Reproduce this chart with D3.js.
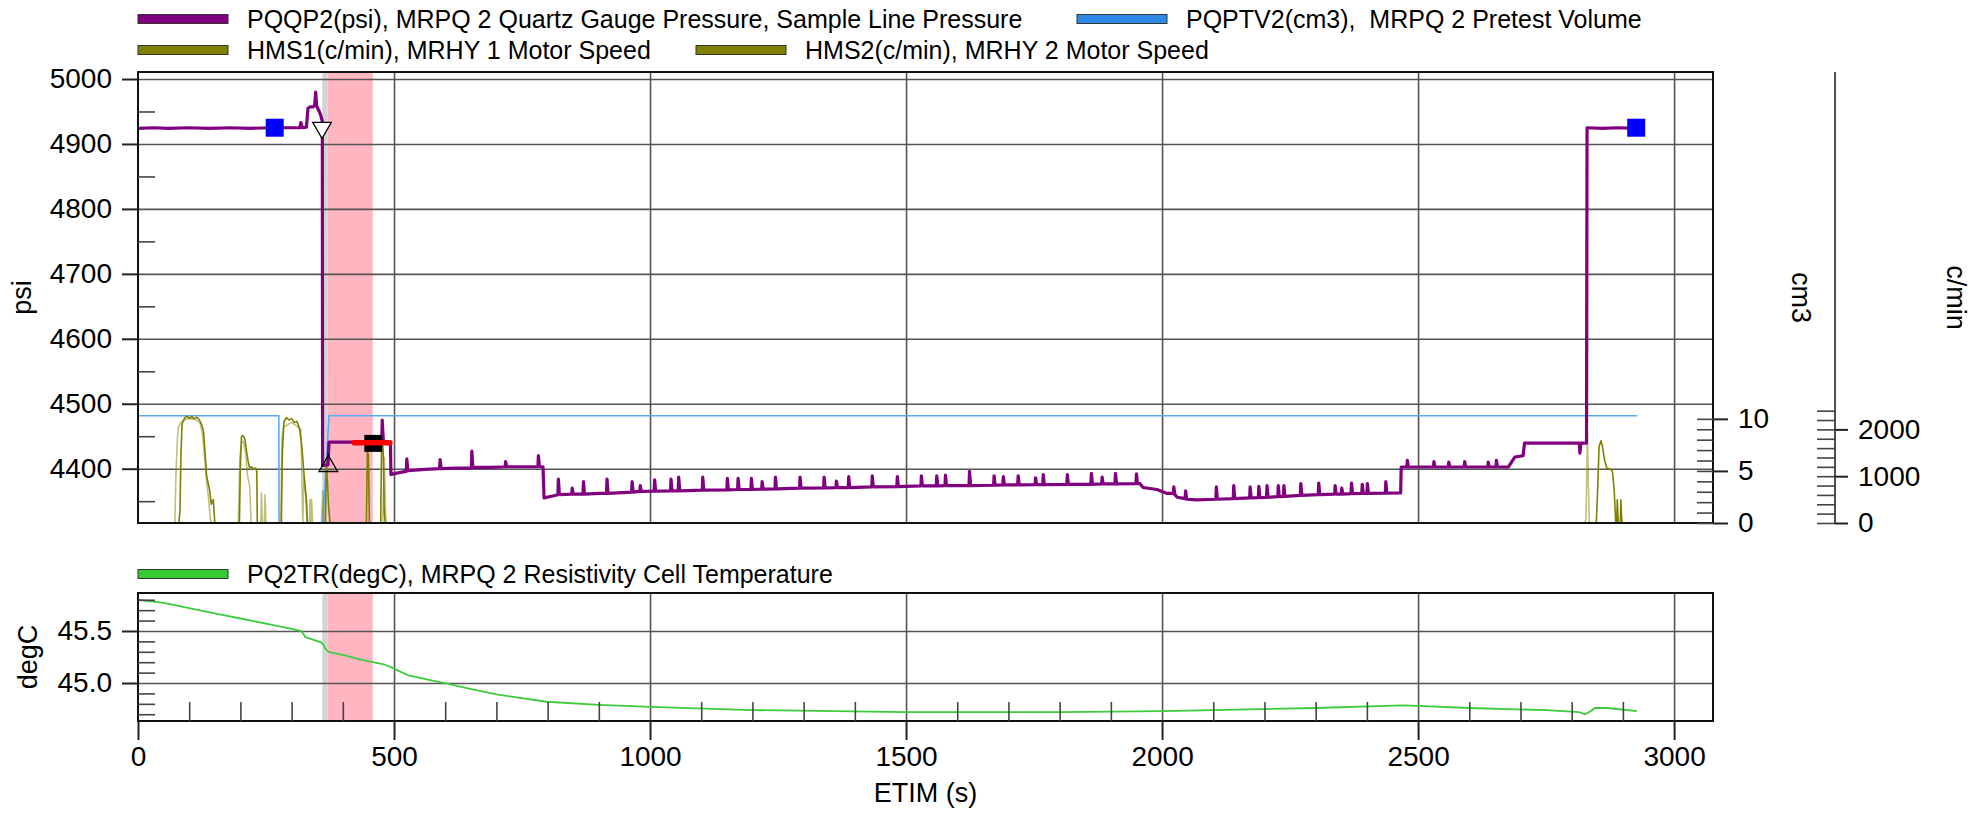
<!DOCTYPE html>
<html>
<head>
<meta charset="utf-8">
<script src="https://cdn.jsdelivr.net/npm/d3@7"></script>
<style>
  html, body { margin: 0; padding: 0; background: #fff; }
  svg { display: block; font-family: "Liberation Sans", Arial, Helvetica, sans-serif; }
</style>
</head>
<body>
<svg id="chart" width="1984" height="814"></svg>
<script>
// ---------------------------------------------------------------------------
// Station log: elapsed time ETIM (s) against gauge / pump / temperature channels
// ---------------------------------------------------------------------------

// PQQP2 quartz gauge pressure [ETIM s, psi]
const pressureQuartz = [
  [0,4924],[30,4925],[60,4924],[100,4925],[140,4924],[180,4925],[220,4924],[260,4925],[300,4925],
  [316,4925],[318,4933],[321,4925],[329,4926],[332,4955],[336,4957],[342,4957],[345,4960],[347,4980],
  [349,4958],[354,4950],[357,4944],[360,4935],[360.5,4405],[371,4406],[373,4441],[430,4441],[476,4441],
  [477,4475],[479,4445],[482,4441],[493,4441],[494,4391],[510,4394],[524,4396],
  [525,4415],[527,4397],[560,4399],[589,4400],[590,4414],[592,4400],[620,4401],[651,4401],[652,4427],
  [654,4402],[690,4402],[717,4403],[718,4411],[720,4403],[750,4403],[781,4403],[782,4420],[784,4403],
  [791,4403],[793,4355],[810,4358],[820,4360],[821,4384],[823,4360],[847,4361],[848,4370],[850,4361],
  [869,4361],[870,4380],[872,4361],[900,4362],[915,4362],[916,4384],[918,4362],[964,4364],[965,4380],
  [967,4364],[980,4365],[981,4374],[983,4365],
  [1008,4365.4],[1009,4383],[1011,4365.4],[1040,4366],[1041,4384],[1043,4366],[1055,4366],[1056,4387],[1058,4366],
  [1102,4367],[1103,4387],[1105,4367],[1150,4367.5],[1151,4385],[1153,4367.5],[1171,4368],[1172,4385],[1174,4368],
  [1197,4368],[1198,4385],[1200,4368],[1218,4368.5],[1219,4380],[1221,4368.5],[1244,4369],[1245,4387],[1247,4369],
  [1292,4370],[1293,4387],[1295,4370],[1339,4370.5],[1340,4387],[1342,4370.5],[1363,4371],[1364,4381],[1366,4371],
  [1387,4371],[1388,4388],[1390,4371],[1433,4372],[1434,4389],[1436,4372],[1482,4372.5],[1483,4388],[1485,4372.5],
  [1529,4373.5],[1530,4389],[1532,4373.5],[1559,4373.5],[1560,4389],[1562,4373.5],[1576,4374],[1577,4390],[1579,4374],
  [1623,4374],[1624,4396],[1626,4374],[1671,4374.5],[1672,4389],[1674,4374.5],[1689,4375],[1690,4388],[1692,4375],
  [1718,4375],[1719,4389],[1721,4375],[1752,4375.5],[1753,4386],[1755,4375.5],[1767,4375.5],[1768,4391],[1770,4375.5],
  [1814,4376],[1815,4391],[1817,4376],[1861,4376],[1862,4393],[1864,4376],[1882,4376.5],[1883,4387],[1885,4376.5],
  [1908,4376.5],[1909,4393],[1911,4376.5],[1949,4377],[1950,4392],[1952,4377],
  [1957,4377],[1963,4371],[1990,4368],[2000,4365],[2010,4362],[2022,4362],[2023,4372],[2025,4360],
  [2030,4356],[2045,4354],[2046,4366],[2048,4353],[2068,4352],
  [2105,4353],[2106,4372],[2108,4353],[2139,4354],[2140,4374],[2142,4354],[2171,4355],[2172,4372],[2174,4355],
  [2188,4355.5],[2189,4373],[2191,4355.5],[2204,4356],[2205,4374],[2207,4356],[2226,4357],[2227,4374],[2229,4357],
  [2237,4357.5],[2238,4374],[2240,4357.5],[2270,4359],[2271,4377],[2273,4359],[2305,4360],[2306,4378],[2308,4360],
  [2337,4361],[2338,4374],[2340,4361],[2350,4361],[2351,4370],[2353,4361],[2369,4361.5],[2370,4378],[2372,4361.5],
  [2390,4362],[2391,4376],[2393,4362],[2400,4362],[2401,4377],[2403,4362],[2436,4362.5],[2437,4380],[2439,4362.5],
  [2466,4362.6],[2467,4402.6],[2478,4402.6],[2479,4413],[2481,4402.6],[2530,4402.6],[2531,4411],[2533,4402.6],
  [2559,4402.6],[2560,4410],[2562,4402.6],[2590,4402.6],[2591,4411],[2593,4402.6],[2636,4402.6],[2637,4410],
  [2639,4402.6],[2652,4402.6],[2653,4413],[2655,4402.6],[2676,4402.6],[2689,4418],[2705,4420],[2708,4439.5],
  [2815,4439.5],[2816,4424],[2818,4439.5],[2829,4439.5],[2830,4925],[2860,4924],[2890,4925],[2925,4924]
];

// PQPTV2 pretest volume [ETIM s, cm3]
const pretestVolume = [
  [0,10.3],[275,10.3],[275.5,0],[360.7,0],[368.5,6.4],[373,10.3],[2928,10.3]
];

// HMS1 motor speed [ETIM s, c/min]
const motorSpeed1 = [
  [0,0],[80,0],[82,300],[84,1500],[86,2100],[88,2180],[92,2250],[95,2290],[100,2240],[105,2270],[110,2230],
  [115,2260],[120,2200],[123,2130],[126,2050],[128,1950],[131,1500],[134,1000],[137,850],[140,700],[143,400],
  [147,500],[150,0],[195,0],[198,0],[200,1200],[202,1850],[205,1870],[209,1780],[212,1530],[215,1320],
  [218,1175],[222,1200],[226,1150],[230,1175],[232,1100],[233,0],[278,0],[280,0],[282,1500],[285,2170],
  [290,2250],[295,2200],[300,2230],[305,2150],[310,2170],[313,2100],[316,1990],[318,1800],[320,1640],
  [323,1210],[326,800],[329,500],[331,0],[366,0],[368,1280],[370,900],[372,400],[375,0],[446,0],[448,1530],
  [450,1450],[452,0],[474,0],[476,1994],[479,1500],[481,200],[483,0],
  [2846,0],[2848,0],[2850,500],[2853.5,1637],[2857.4,1758],[2860,1640],[2864,1353],[2868.5,1175],[2875,1154],
  [2879.6,1103],[2883,711],[2886,0],[2888,0],[2889,498],[2891,0],[2895,0],[2896,498],[2898,0],[2930,0]
];

// HMS2 motor speed [ETIM s, c/min]
const motorSpeed2 = [
  [0,0],[72,0],[74,1000],[77,1800],[79,2050],[84,2150],[95,2230],[110,2220],[121,2150],[126,1900],[130,1400],
  [134,900],[138,500],[141,100],[143,0],[196,0],[199,1400],[202,1700],[206,1750],[210,1500],[214,1000],
  [218,800],[221,0],[240,0],[241,640],[243,0],[247,0],[248,600],[250,0],[279,0],[281,1800],[284,2050],
  [300,2150],[318,2000],[322,0],[324,1000],[327,700],[330,0],[335,0],[336,500],[338,0],[339,500],[341,0],
  [358,0],[361,700],[363,0],[478,0],[481,1400],[484,0],
  [2826,0],[2828,100],[2830.7,1923],[2832.7,782],[2834.6,0],[2930,0]
];

// PQ2TR resistivity cell temperature [ETIM s, degC]
const cellTemperature = [
  [0,45.80],[50,45.77],[100,45.72],[150,45.67],[200,45.62],[250,45.57],[300,45.52],[318,45.50],[322,45.48],
  [327,45.44],[340,45.42],[358,45.39],[362,45.37],[366,45.33],[372,45.30],[400,45.27],[440,45.22],[480,45.18],
  [495,45.15],[512,45.11],[530,45.07],[551,45.05],[577,45.02],[600,45.00],[642,44.95],[700,44.89],[798,44.82],
  [900,44.79],[1000,44.77],[1200,44.74],[1500,44.72],[1800,44.72],[2000,44.73],[2100,44.74],[2300,44.76],
  [2470,44.785],[2500,44.78],[2600,44.76],[2750,44.74],[2815,44.72],[2826,44.70],[2834,44.72],[2845,44.76],
  [2870,44.76],[2927,44.73]
];

// Event markers
const sampleMarks = [[267,4925],[2926,4925]];          // blue squares
const setStart = [359.4,4925];                         // open triangle down
const setEnd = [371.7,4404];                           // open triangle up
const buildupMark = [459.5,4439];                      // black block
const buildupSpan = [[422,4440],[492,4440]];           // red bar
const setBand = [360,370.5];                           // grey band (s)
const pretestBand = [370.5,458.4];                     // pink band (s)

// Ticks
const timeTicks = [0,500,1000,1500,2000,2500,3000];
const timeMinorTicks = [100,200,300,400,600,700,800,900,1100,1200,1300,1400,1600,1700,1800,1900,
                        2100,2200,2300,2400,2600,2700,2800,2900];
const psiTicks = [4400,4500,4600,4700,4800,4900,5000];
const psiMinorTicks = [4350,4450,4550,4650,4750,4850,4950];
const cm3Ticks = [0,5,10];
const cm3MinorTicks = [0,1,2,3,4,5,6,7,8,9,10];
const rpmTicks = [0,1000,2000];
const rpmMinorTicks = [0,200,400,600,800,1000,1200,1400,1600,1800,2000,2200,2400];
const degTicks = [45.0,45.5];
const degMinorTicks = [44.7,44.8,44.9,45.1,45.2,45.3,45.4,45.6,45.7,45.8];

// Legend text
const legendTopRow1 = ["PQQP2(psi), MRPQ 2 Quartz Gauge Pressure, Sample Line Pressure",
                       "PQPTV2(cm3),  MRPQ 2 Pretest Volume"];
const legendTopRow2 = ["HMS1(c/min), MRHY 1 Motor Speed", "HMS2(c/min), MRHY 2 Motor Speed"];
const legendBottom = ["PQ2TR(degC), MRPQ 2 Resistivity Cell Temperature"];

// ---------------------------------------------------------------------------
const C = {
  purple: "#800080", blue: "#5aabf5", blueSwatch: "#2a8ae6", olive: "#808000",
  green: "#3ccc3c", greenSwatch: "#33cc33", grid: "#555", frame: "#111",
  pink: "#ffb6c1", grey: "#d3d3d3"
};
const FONT = 28, LEG_FONT = 25;

const svg = d3.select("#chart");
const L = 138, R = 1713, T1 = 72, B1 = 523, T2 = 593, B2 = 721;

const x = d3.scaleLinear().domain([0, 3076]).range([L, R]);
const yPsi = d3.scaleLinear().domain([4316.4, 5010.8]).range([B1, T1]);
const yCm3 = d3.scaleLinear().domain([0, 43.3]).range([B1, T1]);
const yRpm = d3.scaleLinear().domain([0, 9636]).range([B1, T1]);
const yDeg = d3.scaleLinear().domain([44.635, 45.865]).range([B2, T2]);

const defs = svg.append("defs");
defs.append("clipPath").attr("id", "clipTop").append("rect")
  .attr("x", L).attr("y", T1).attr("width", R - L).attr("height", B1 - T1);
defs.append("clipPath").attr("id", "clipBot").append("rect")
  .attr("x", L).attr("y", T2).attr("width", R - L).attr("height", B2 - T2);

// shaded intervals in both panels
[[T1, B1], [T2, B2]].forEach(([t, b]) => {
  svg.append("rect").attr("x", x(setBand[0])).attr("y", t)
    .attr("width", x(setBand[1]) - x(setBand[0])).attr("height", b - t).attr("fill", C.grey);
  svg.append("rect").attr("x", x(pretestBand[0])).attr("y", t)
    .attr("width", x(pretestBand[1]) - x(pretestBand[0])).attr("height", b - t).attr("fill", C.pink);
});

// grid lines
function styleGrid(g) {
  g.select(".domain").remove();
  g.selectAll("line").attr("stroke", C.grid).attr("stroke-width", 1.6);
}
svg.append("g").attr("transform", `translate(${L},0)`)
  .call(d3.axisLeft(yPsi).tickValues(psiTicks).tickSize(-(R - L)).tickFormat(""))
  .call(styleGrid);
svg.append("g").attr("transform", `translate(0,${B1})`)
  .call(d3.axisBottom(x).tickValues(timeTicks.slice(1)).tickSize(-(B1 - T1)).tickFormat(""))
  .call(styleGrid);
svg.append("g").attr("transform", `translate(${L},0)`)
  .call(d3.axisLeft(yDeg).tickValues(degTicks).tickSize(-(R - L)).tickFormat(""))
  .call(styleGrid);
svg.append("g").attr("transform", `translate(0,${B2})`)
  .call(d3.axisBottom(x).tickValues(timeTicks.slice(1)).tickSize(-(B2 - T2)).tickFormat(""))
  .call(styleGrid);

// series
const gTop = svg.append("g").attr("clip-path", "url(#clipTop)");
const gBot = svg.append("g").attr("clip-path", "url(#clipBot)");

const lineOf = (ys) => d3.line().x(d => x(d[0])).y(d => ys(d[1]));

gTop.append("path").datum(pretestVolume).attr("d", lineOf(yCm3))
  .attr("fill", "none").attr("stroke", C.blue).attr("stroke-width", 1.6);
gTop.append("path").datum(motorSpeed2).attr("d", lineOf(yRpm))
  .attr("fill", "none").attr("stroke", C.olive).attr("stroke-opacity", 0.5).attr("stroke-width", 1.6)
  .attr("stroke-linejoin", "round");
gTop.append("path").datum(motorSpeed1).attr("d", lineOf(yRpm))
  .attr("fill", "none").attr("stroke", C.olive).attr("stroke-width", 1.6).attr("stroke-linejoin", "round");
gTop.append("path").datum(pressureQuartz).attr("d", lineOf(yPsi))
  .attr("fill", "none").attr("stroke", C.purple).attr("stroke-width", 3.2)
  .attr("stroke-linejoin", "round").attr("stroke-linecap", "round");

gBot.append("path").datum(cellTemperature).attr("d", lineOf(yDeg))
  .attr("fill", "none").attr("stroke", C.green).attr("stroke-width", 1.8).attr("stroke-linejoin", "round");

// markers
gTop.selectAll(".sq").data(sampleMarks).join("path")
  .attr("transform", d => `translate(${x(d[0])},${yPsi(d[1])})`)
  .attr("d", d3.symbol(d3.symbolSquare).size(18 * 18)).attr("fill", "#0000ff");
gTop.append("path")
  .attr("transform", `translate(${x(setStart[0])},${yPsi(setStart[1])}) rotate(180)`)
  .attr("d", d3.symbol(d3.symbolTriangle).size(150))
  .attr("fill", "#fff").attr("stroke", "#000").attr("stroke-width", 1.3);
gTop.append("path")
  .attr("transform", `translate(${x(setEnd[0])},${yPsi(setEnd[1])})`)
  .attr("d", d3.symbol(d3.symbolTriangle).size(150))
  .attr("fill", "none").attr("stroke", "#000").attr("stroke-width", 1.3);
gTop.append("rect")
  .attr("x", x(buildupMark[0]) - 9).attr("y", yPsi(buildupMark[1]) - 8.5)
  .attr("width", 18).attr("height", 17).attr("fill", "#000");
gTop.append("path").datum(buildupSpan).attr("d", lineOf(yPsi))
  .attr("stroke", "#ff0000").attr("stroke-width", 5.5).attr("stroke-linecap", "round").attr("fill", "none");

// frames
[[T1, B1], [T2, B2]].forEach(([t, b]) => {
  svg.append("rect").attr("x", L).attr("y", t).attr("width", R - L).attr("height", b - t)
    .attr("fill", "none").attr("stroke", C.frame).attr("stroke-width", 2);
});

// axes
function styleAxis(g, fs) {
  g.select(".domain").remove();
  g.attr("font-size", fs || FONT).attr("font-family", null);
  g.selectAll("line").attr("stroke", "#222").attr("stroke-width", 2);
  g.selectAll("text").attr("fill", "#000");
}
function styleMinor(g) {
  g.select(".domain").remove();
  g.selectAll("line").attr("stroke", "#444").attr("stroke-width", 1.6);
}

// psi
svg.append("g").attr("transform", `translate(${L},0)`)
  .call(d3.axisLeft(yPsi).tickValues(psiTicks).tickSize(16).tickPadding(10).tickFormat(d3.format("d")))
  .call(styleAxis);
svg.append("g").attr("transform", `translate(${L},0)`)
  .call(d3.axisLeft(yPsi).tickValues(psiMinorTicks).tickSize(-17).tickFormat(""))
  .call(styleMinor);

// degC
svg.append("g").attr("transform", `translate(${L},0)`)
  .call(d3.axisLeft(yDeg).tickValues(degTicks).tickSize(16).tickPadding(10).tickFormat(d3.format(".1f")))
  .call(styleAxis);
svg.append("g").attr("transform", `translate(${L},0)`)
  .call(d3.axisLeft(yDeg).tickValues(degMinorTicks).tickSize(-17).tickFormat(""))
  .call(styleMinor);

// time
svg.append("g").attr("transform", `translate(0,${B2})`)
  .call(d3.axisBottom(x).tickValues(timeTicks).tickSize(19).tickPadding(6).tickFormat(d3.format("d")))
  .call(styleAxis);
svg.append("g").attr("transform", `translate(0,${B2})`)
  .call(d3.axisBottom(x).tickValues(timeMinorTicks).tickSize(-19).tickFormat(""))
  .call(styleMinor);

// cm3 (right frame)
svg.append("g").attr("transform", `translate(${R},0)`)
  .call(d3.axisRight(yCm3).tickValues(cm3Ticks).tickSize(15).tickPadding(10).tickFormat(d3.format("d")))
  .call(styleAxis);
svg.append("g").attr("transform", `translate(${R},0)`)
  .call(d3.axisRight(yCm3).tickValues(cm3MinorTicks).tickSize(-16).tickFormat(""))
  .call(styleMinor);

// c/min (offset axis)
const RPM_X = 1835;
svg.append("line").attr("x1", RPM_X).attr("x2", RPM_X).attr("y1", T1).attr("y2", B1)
  .attr("stroke", "#222").attr("stroke-width", 1.6);
svg.append("g").attr("transform", `translate(${RPM_X},0)`)
  .call(d3.axisRight(yRpm).tickValues(rpmTicks).tickSize(13).tickPadding(10).tickFormat(d3.format("d")))
  .call(styleAxis);
svg.append("g").attr("transform", `translate(${RPM_X},0)`)
  .call(d3.axisRight(yRpm).tickValues(rpmMinorTicks).tickSize(-18).tickFormat(""))
  .call(styleMinor);

// axis titles
const title = (txt, tx, ty, rot) => svg.append("text")
  .attr("transform", `translate(${tx},${ty}) rotate(${rot})`)
  .attr("text-anchor", "middle").attr("dominant-baseline", "central")
  .attr("font-size", 27).text(txt);
title("psi", 22, (T1 + B1) / 2, -90);
title("degC", 28, (T2 + B2) / 2, -90);
title("cm3", 1801, (T1 + B1) / 2, 90);
title("c/min", 1956, (T1 + B1) / 2, 90);
title("ETIM (s)", (L + R) / 2, 793, 0);

// legends
function legendItem(label, color, lx, ly, alpha) {
  svg.append("rect").attr("x", lx).attr("y", ly - 4.5).attr("width", 90).attr("height", 9)
    .attr("fill", color).attr("fill-opacity", alpha || 1).attr("stroke", "#333").attr("stroke-width", 1);
  svg.append("text").attr("x", lx + 109).attr("y", ly).attr("dominant-baseline", "central")
    .attr("font-size", LEG_FONT).style("white-space", "pre").text(label);
}
legendItem(legendTopRow1[0], C.purple, 138, 19);
legendItem(legendTopRow1[1], C.blueSwatch, 1077, 19);
legendItem(legendTopRow2[0], C.olive, 138, 50);
legendItem(legendTopRow2[1], C.olive, 696, 50);
legendItem(legendBottom[0], C.greenSwatch, 138, 574);
</script>
</body>
</html>
